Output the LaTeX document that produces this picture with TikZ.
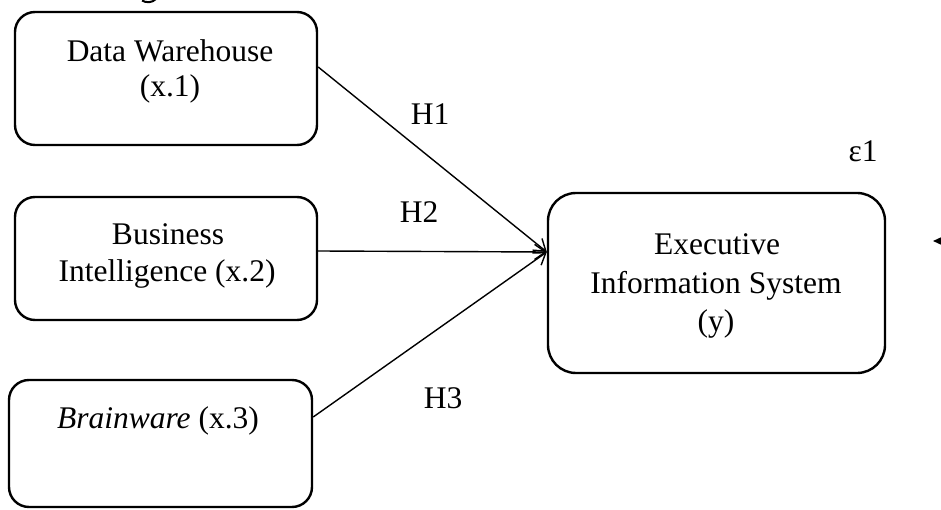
\documentclass[tikz,border=0pt]{standalone}
\usepackage{fontspec}
\setmainfont{Liberation Serif}
\usetikzlibrary{arrows.meta}
\begin{document}
\begin{tikzpicture}[x=1pt,y=-1pt,
  box/.style={draw, line width=2.4pt, rounded corners=20pt, inner sep=0pt},
  txt/.style={anchor=base, inner sep=0pt, font=\fontsize{31.5}{37}\selectfont},
  conn/.style={line width=1.4pt, -{Straight Barb[length=11pt,width=15pt,line width=1.4pt]}}
]
\useasboundingbox (0,0) rectangle (941,510);
% boxes
\node[box, minimum width=302pt, minimum height=133pt] (b1) at (166,78.5) {};
\node[box, minimum width=302pt, minimum height=123pt] (b2) at (166,258.5) {};
\node[box, minimum width=303pt, minimum height=127pt] (b3) at (160.5,443.5) {};
\node[box, rounded corners=28pt, minimum width=337pt, minimum height=180pt] (y) at (716.5,283) {};
% stroke fragment at top edge
\draw[line width=2pt] (142,0.5) .. controls (146,3) and (152,3) .. (156,-1);
% texts
\node[txt] (t1a) at (170,62) {Data Warehouse};
\node[txt] (t1b) at (170,97) {(x.1)};
\node[txt] (t2a) at (168,245) {Business};
\node[txt] (t2b) at (167,282) {Intelligence (x.2)};
\node[txt] (t3) at (158,428) {\textit{Brainware} (x.3)};
\node[txt] (ya) at (717,255) {Executive};
\node[txt] (yb) at (716,293) {Information System};
\node[txt] (yc) at (716,331) {(y)};
\node[txt] (h1) at (430,125) {H1};
\node[txt] (h2) at (419,223) {H2};
\node[txt] (h3) at (443,408) {H3};
\node[txt] (eps) at (863,162) {ε1};
% connectors
\coordinate (tip) at ([yshift=31pt]y.west);
\draw[conn] ([yshift=11.5pt]b1.east) -- (tip);
\draw[conn] ([yshift=7.5pt]b2.east) -- (tip);
\draw[conn] ([yshift=26.5pt]b3.east) -- (tip);
% error arrow
\coordinate (eout) at (975,241);
\coordinate (ein) at (933,241);
\draw[line width=1.3pt, -{Triangle[length=9pt,width=8pt]}] (eout) -- (ein);
\end{tikzpicture}
\end{document}
